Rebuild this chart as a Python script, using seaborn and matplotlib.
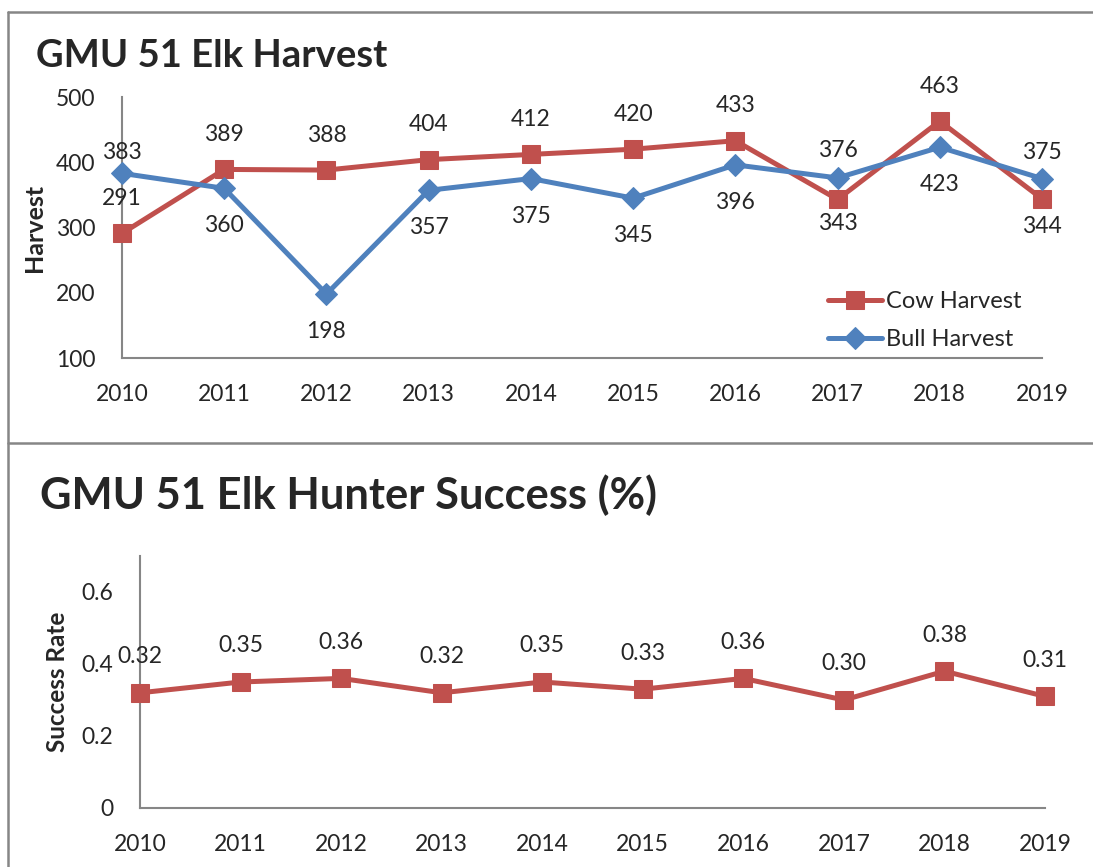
import matplotlib
matplotlib.use("Agg")
import matplotlib.pyplot as plt
from matplotlib.lines import Line2D
import seaborn as sns
import pandas as pd

years = [2010, 2011, 2012, 2013, 2014, 2015, 2016, 2017, 2018, 2019]
cow_harvest = [291, 389, 388, 404, 412, 420, 433, 343, 463, 344]
bull_harvest = [383, 360, 198, 357, 375, 345, 396, 376, 423, 375]
success_rate = [0.32, 0.35, 0.36, 0.32, 0.35, 0.33, 0.36, 0.30, 0.38, 0.31]

title_top = "GMU 51 Elk Harvest"
title_bottom = "GMU 51 Elk Hunter Success (%)"

# label vertical offsets in points (positive = above)
cow_offset = [25, 25, 25, 25, 25, 25, 25, -17, 25, -20]
bull_offset = [15, -27, -27, -27, -27, -27, -27, 20, -27, 19]

RED = "#C0504D"
BLUE = "#4F81BD"
AXC = "#868686"

sns.set_style("white")
plt.rcParams["font.family"] = ["Lato", "DejaVu Sans"]

fig = plt.figure(figsize=(10.93, 8.67), dpi=100)

ax1 = fig.add_axes([122 / 1093, 1 - 358 / 867, 920 / 1093, 261 / 867])
ax2 = fig.add_axes([140 / 1093, 1 - 808 / 867, 905 / 1093, 252 / 867])

df_cow = pd.DataFrame({"year": years, "value": cow_harvest})
df_bull = pd.DataFrame({"year": years, "value": bull_harvest})
df_succ = pd.DataFrame({"year": years, "value": success_rate})

sns.lineplot(data=df_cow, x="year", y="value", ax=ax1, color=RED, lw=3.6,
             marker="s", markersize=13, markeredgecolor=RED, label="Cow Harvest",
             clip_on=False, zorder=3)
sns.lineplot(data=df_bull, x="year", y="value", ax=ax1, color=BLUE, lw=3.6,
             marker="D", markersize=11, markeredgecolor=BLUE, label="Bull Harvest",
             clip_on=False, zorder=4)
sns.lineplot(data=df_succ, x="year", y="value", ax=ax2, color=RED, lw=3.6,
             marker="s", markersize=13, markeredgecolor=RED,
             clip_on=False, zorder=3, legend=False)

def style_axes(ax, ylim, yticks, yticklabels):
    ax.set_xlim(years[0], years[-1])
    ax.set_ylim(*ylim)
    ax.set_xticks(years)
    ax.set_xticklabels([str(y) for y in years], fontsize=16.5)
    ax.set_yticks(yticks)
    ax.set_yticklabels(yticklabels, fontsize=16.5)
    ax.tick_params(axis="both", length=0)
    ax.tick_params(axis="x", pad=19)
    ax.tick_params(axis="y", pad=19)
    for s in ["top", "right"]:
        ax.spines[s].set_visible(False)
    for s in ["left", "bottom"]:
        ax.spines[s].set_color(AXC)
        ax.spines[s].set_linewidth(1.5)
    ax.set_xlabel("")
    ax.patch.set_alpha(0)

style_axes(ax1, (100, 500), [100, 200, 300, 400, 500], ["100", "200", "300", "400", "500"])
style_axes(ax2, (0, 0.7), [0, 0.2, 0.4, 0.6], ["0", "0.2", "0.4", "0.6"])

ax1.set_ylabel("Harvest", fontsize=18, fontweight="bold")
ax1.yaxis.set_label_coords((46 - 122) / 920, 0.5)
ax2.set_ylabel("Success Rate", fontsize=17.5, fontweight="bold")
ax2.yaxis.set_label_coords((69 - 140) / 905, 0.5)

for x, v, o in zip(years, cow_harvest, cow_offset):
    ax1.annotate(str(v), (x, v), xytext=(0, o), textcoords="offset points",
                 ha="center", va="center", fontsize=16.5, zorder=6)
for x, v, o in zip(years, bull_harvest, bull_offset):
    ax1.annotate(str(v), (x, v), xytext=(0, o), textcoords="offset points",
                 ha="center", va="center", fontsize=16.5, zorder=6)
for x, v in zip(years, success_rate):
    ax2.annotate(f"{v:.2f}", (x, v), xytext=(0, 26), textcoords="offset points",
                 ha="center", va="center", fontsize=16.5, zorder=6)

leg = ax1.legend(loc="upper left", bbox_to_anchor=((828 - 122) / 920, (358 - 291) / 261),
                 frameon=False, fontsize=17, handlelength=2.3, handletextpad=0.15,
                 labelspacing=0.72, borderaxespad=0, borderpad=0)

fig.text(36 / 1093, 1 - 56 / 867, title_top, fontsize=27.5, fontweight="bold",
         ha="left", va="center")
fig.text(40 / 1093, 1 - 495 / 867, title_bottom, fontsize=31.3, fontweight="bold",
         ha="left", va="center")

# panel borders
fig.add_artist(Line2D([8 / 1093, 1], [1 - 12 / 867, 1 - 12 / 867], color=AXC, lw=1.8,
                      transform=fig.transFigure))
fig.add_artist(Line2D([8 / 1093, 1], [1 - 443 / 867, 1 - 443 / 867], color=AXC, lw=1.8,
                      transform=fig.transFigure))
fig.add_artist(Line2D([8 / 1093, 8 / 1093], [0, 1 - 12 / 867], color=AXC, lw=1.8,
                      transform=fig.transFigure))

fig.savefig("out.png", dpi=100)
